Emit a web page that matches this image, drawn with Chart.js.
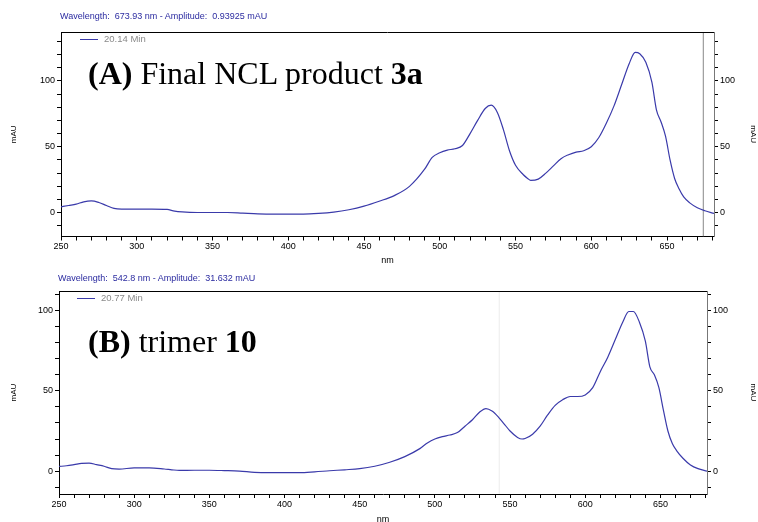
<!DOCTYPE html>
<html>
<head>
<meta charset="UTF-8">
<title>UV-Vis spectra</title>
<script src="https://cdn.jsdelivr.net/npm/chart.js"></script>
<style>
  body { margin: 0; background: #fff; }
  #wrap { position: relative; width: 758px; height: 522px; overflow: hidden; font-family: "Liberation Sans", Arial, sans-serif; }
  canvas { position: absolute; left: 0; }
  .hdr { position: absolute; font-size: 9px; color: #2b2ba0; white-space: nowrap; line-height: 1; }
  .leg { position: absolute; font-size: 9.5px; color: #8a8a8a; white-space: nowrap; line-height: 1; }
  .leg i { display: inline-block; width: 18px; height: 0; border-top: 1px solid #3a3aaa; vertical-align: middle; margin-right: 6px; }
  .big { position: absolute; font-family: "Liberation Serif", "Times New Roman", serif; font-size: 32px; color: #000; white-space: nowrap; line-height: 1; }
</style>
</head>
<body>
<div id="wrap">
  <canvas id="chartA" width="758" height="270" style="top:0"></canvas>
  <canvas id="chartB" width="758" height="256" style="top:270px"></canvas>

  <div class="hdr" style="left:60px; top:12px">Wavelength:&nbsp; 673.93 nm - Amplitude:&nbsp; 0.93925 mAU</div>
  <div class="leg" style="left:80px; top:34px"><i></i>20.14 Min</div>
  <div class="big" style="left:88px; top:57px"><b>(A)</b> Final NCL product <b>3a</b></div>

  <div class="hdr" style="left:58px; top:274px">Wavelength:&nbsp; 542.8 nm - Amplitude:&nbsp; 31.632 mAU</div>
  <div class="leg" style="left:77px; top:293px"><i></i>20.77 Min</div>
  <div class="big" style="left:88px; top:325px"><b>(B)</b> trimer <b>10</b></div>
</div>

<script>
  // wavelengths (nm) and absorbance (mAU)
  const nm = [250, 255, 260, 265, 270, 275, 280, 285, 290, 300, 310, 320, 325, 330, 340, 350, 360, 370,
              380, 390, 400, 410, 420, 430, 440, 450, 460, 470, 480, 490, 495, 500, 505, 510, 515, 520,
              525, 530, 534, 538, 542, 546, 550, 555, 558, 560, 565, 570, 575, 580, 585, 590, 595, 600,
              605, 610, 615, 620, 625, 629, 632, 636, 640, 643, 646, 649, 652, 655, 658, 661, 665, 670,
              675, 681];
  const specA = [4.5, 5.5, 6.5, 8.3, 9, 7.8, 5.5, 3.3, 2.8, 2.8, 2.8, 2.5, 1.2, 0.6, 0.2, 0.2, 0.2, -0.3,
                 -0.8, -1, -1, -1, -0.5, 0.5, 2.3, 5, 8.7, 13, 20, 33, 42, 45.5, 47.5, 48.5, 51, 60,
                 70, 79, 81.5, 76, 63, 47, 36, 29, 26, 24.5, 25.5, 30, 35.5, 41, 44, 46, 47, 50,
                 57, 68, 81, 97, 113, 121.5, 120.5, 114, 99, 78, 69, 58, 40, 26, 18, 12, 7.5, 3.8,
                 1.5, -0.5];
  const specB = [2.9, 3.3, 4, 4.8, 5, 4, 3, 1.5, 1.2, 2, 2, 1.3, 0.8, 0.4, 0.5, 0.5, 0.3, 0,
                 -0.8, -1, -1, -1, -0.5, 0.2, 0.8, 1.5, 3, 5.5, 9, 14, 17.5, 20, 21.5, 22.5, 24, 28,
                 32, 37, 39, 37.5, 34, 29.5, 25, 21, 20, 20.3, 23, 28, 35, 41, 44.5, 46.5, 46.5, 47.5,
                 52, 62, 71, 82, 93, 99.5, 99.5, 93, 81, 65, 60, 52, 38, 25, 17, 12.5, 8, 3.8,
                 1.5, 0];

  const xLabels = [250, 300, 350, 400, 450, 500, 550, 600, 650];
  const yLabels = [0, 50, 100];
  const cursorA = 673.93;
  const cursorB = 542.8;

  const tickFont = { family: "'Liberation Sans', Arial, sans-serif", size: 9 };
  const lineColor = '#3a3aaa';

  // black line along the top of the plot box
  const topBorder = {
    id: 'topBorder',
    afterDraw(chart) {
      const { ctx, chartArea: a } = chart;
      ctx.save();
      ctx.strokeStyle = '#000';
      ctx.lineWidth = 1;
      ctx.beginPath();
      ctx.moveTo(a.left, Math.round(a.top) + 0.5);
      ctx.lineTo(a.right, Math.round(a.top) + 0.5);
      ctx.stroke();
      ctx.restore();
    }
  };

  function yAxis(pos, o) {
    return {
      type: 'linear',
      position: pos,
      min: o.yMin,
      max: o.yMax,
      afterFit: s => { s.width = pos === 'left' ? o.left : 758 - o.right; },
      border: { color: pos === 'left' ? '#000' : '#777', width: 1 },
      grid: { drawOnChartArea: false, tickLength: 4, tickColor: '#000' },
      ticks: {
        stepSize: 10, includeBounds: false, autoSkip: false, padding: 2,
        color: '#000', font: tickFont,
        callback: v => yLabels.includes(v) ? String(v) : ''
      },
      title: {
        display: true, text: 'mAU', color: '#000', font: { ...tickFont, size: 8 },
        padding: pos === 'left' ? { top: 9, bottom: 0 } : { top: 0, bottom: 0 }
      }
    };
  }

  function makeChart(id, values, cursor, cursorColor, o) {
    const pts = nm.map((w, i) => ({ x: w, y: values[i] }));
    return new Chart(document.getElementById(id), {
      type: 'line',
      data: {
        datasets: [
          {
            data: pts, borderColor: lineColor, borderWidth: 1.2,
            pointRadius: 0, cubicInterpolationMode: 'monotone', fill: false
          },
          {
            data: [{ x: cursor, y: o.yMin }, { x: cursor, y: o.yMax }],
            borderColor: cursorColor, borderWidth: 1, pointRadius: 0
          }
        ]
      },
      options: {
        responsive: false,
        animation: false,
        layout: { padding: { top: o.top, left: 0, right: 0, bottom: 0 } },
        plugins: { legend: { display: false }, tooltip: { enabled: false } },
        scales: {
          x: {
            type: 'linear', min: 250, max: 681,
            afterFit: s => { s.height = o.xh; },
            border: { color: '#000', width: 1 },
            grid: { drawOnChartArea: false, tickLength: 4, tickColor: '#000' },
            ticks: {
              stepSize: 10, includeBounds: false, autoSkip: false, maxRotation: 0, padding: 1,
              color: '#000', font: tickFont,
              callback: v => xLabels.includes(v) ? String(v) : ''
            },
            title: { display: true, text: 'nm', color: '#000', font: tickFont, padding: { top: 0, bottom: o.nmPad } }
          },
          y: yAxis('left', o),
          y2: yAxis('right', o)
        }
      },
      plugins: [topBorder]
    });
  }

  makeChart('chartA', specA, cursorA, '#888', {
    yMin: -18, yMax: 137, left: 61, right: 714, top: 32, xh: 270 - 236.5, nmPad: 4
  });
  makeChart('chartB', specB, cursorB, '#ececec', {
    yMin: -14.3, yMax: 112.3, left: 59, right: 707, top: 21, xh: 256 - 224, nmPad: 1
  });
</script>
</body>
</html>
